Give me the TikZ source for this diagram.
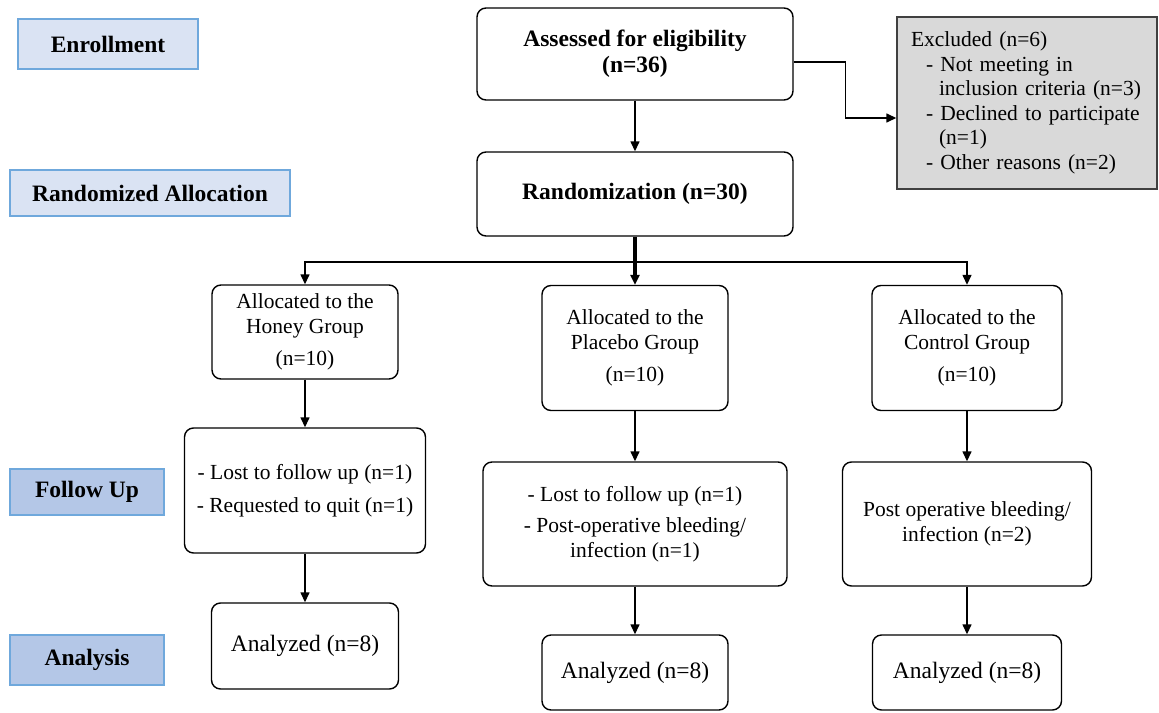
\documentclass[tikz,border=0pt]{standalone}
\usepackage{fontspec}
\setmainfont{Liberation Serif}
\usetikzlibrary{arrows.meta}
\definecolor{bluelight}{HTML}{DAE3F3}
\definecolor{bluemid}{HTML}{B4C7E7}
\definecolor{blueline}{HTML}{6FA8DC}
\definecolor{greyfill}{HTML}{D9D9D9}
\definecolor{greyline}{HTML}{404040}
\begin{document}
\begin{tikzpicture}[x=1pt,y=-1pt,
  phase/.style={draw=blueline, fill=bluelight, line width=1.2pt, inner sep=0pt, font=\fontsize{23.5}{26}\selectfont\bfseries},
  phasedk/.style={phase, fill=bluemid},
  box/.style={draw, rounded corners=9pt, line width=1.4pt, align=center, inner sep=0pt, font=\fontsize{21.5}{24.5}\selectfont},
  boldbox/.style={box, font=\fontsize{23.5}{26}\selectfont\bfseries},
  bigbox/.style={box, font=\fontsize{23.5}{26}\selectfont},
  arr/.style={-{Triangle[length=10pt,width=9pt]}, line width=1.4pt},
]
\useasboundingbox (0,0) rectangle (1159,712);
\node[phase, minimum width=180, minimum height=50] (lab0) at (108,44) {Enrollment};
\node[phase, minimum width=280, minimum height=46] (lab1) at (150,193) {Randomized Allocation};
\node[phasedk, minimum width=154, minimum height=46] (lab2) at (87,492) {Follow Up};
\node[phasedk, minimum width=154, minimum height=50] (lab3) at (87,660) {Analysis};
\node[boldbox, minimum width=316, minimum height=92] (asd) at (635,54) {Assessed for eligibility\\(n=36)};
\node[boldbox, minimum width=316, minimum height=84] (rnd) at (635,194) {Randomization (n=30)};
\node[draw=greyline, fill=greyfill, line width=1.4pt, minimum width=260, minimum height=172, inner xsep=14pt, inner ysep=0pt, text width=232, align=left, font=\fontsize{21.5}{24.5}\selectfont] (exc) at (1027,103) {Excluded (n=6)\\
\hspace*{15pt}- Not meeting in\\
\hspace*{28pt}inclusion criteria (n=3)\\
\hspace*{15pt}- Declined to participate\\
\hspace*{28pt}(n=1)\\
\hspace*{15pt}- Other reasons (n=2)};
\node[box, minimum width=186, minimum height=94] (hon0) at (305,332) {Allocated to the\\Honey Group\\[8pt](n=10)};
\node[box, minimum width=186, minimum height=125] (pla0) at (635,348) {Allocated to the\\Placebo Group\\[8pt](n=10)};
\node[box, minimum width=190, minimum height=125] (ctl0) at (967,348) {Allocated to the\\Control Group\\[8pt](n=10)};
\node[box, minimum width=241, minimum height=125] (hon1) at (305,490.5) {- Lost to follow up (n=1)\\[8pt]- Requested to quit (n=1)};
\node[box, minimum width=304, minimum height=124] (pla1) at (635,524) {- Lost to follow up (n=1)\\[7pt]- Post-operative bleeding/\\infection (n=1)};
\node[box, minimum width=249, minimum height=124] (ctl1) at (967,524) {Post operative bleeding/\\infection (n=2)};
\node[bigbox, minimum width=187, minimum height=86] (hon2) at (305,646) {Analyzed (n=8)};
\node[bigbox, minimum width=186, minimum height=75] (pla2) at (635,672.5) {Analyzed (n=8)};
\node[bigbox, minimum width=189, minimum height=75] (ctl2) at (967,672.5) {Analyzed (n=8)};
\coordinate (br) at (635,262);
\draw[arr] (asd) -- (rnd);
\draw[arr] ([yshift=-8pt]asd.east) -- ++(52,0) |- ([yshift=-15pt]exc.west);
\draw[line width=3.2pt] (rnd.south) -- (br);
\draw[arr] (br) -| (hon0.north);
\draw[arr] (br) -| (ctl0.north);
\draw[arr, line width=3.2pt] (br) -- (pla0.north);
\draw[arr] (hon0) -- (hon1);
\draw[arr] (pla0) -- (pla1);
\draw[arr] (ctl0) -- (ctl1);
\draw[arr] (hon1) -- (hon2);
\draw[arr] (pla1) -- (pla2);
\draw[arr] (ctl1) -- (ctl2);
\end{tikzpicture}
\end{document}
